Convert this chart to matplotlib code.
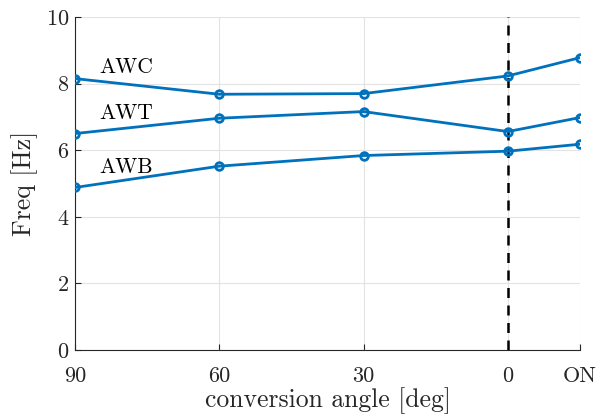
import matplotlib
matplotlib.use("Agg")
import matplotlib.pyplot as plt

x_pos = [-90, -60, -30, 0, 15]
x_labels = ["90", "60", "30", "0", "ON"]
awc = [8.15, 7.68, 7.70, 8.23, 8.78]
awt = [6.50, 6.96, 7.16, 6.56, 6.98]
awb = [4.88, 5.52, 5.84, 5.97, 6.18]
series_names = ["AWC", "AWT", "AWB"]
label_y = [8.5, 7.12, 5.5]

plt.rcParams['font.family'] = ['cmr10', 'DejaVu Serif']
plt.rcParams['axes.formatter.use_mathtext'] = True
plt.rcParams['mathtext.fontset'] = 'cm'

fig = plt.figure(figsize=(6.04, 4.19), dpi=100)
ax = fig.add_axes([75/604, 69/419, 505/604, 333/419])

color = '#0072BD'
for s in [awc, awt, awb]:
    ax.plot(x_pos, s, '-o', color=color, lw=2, ms=5.5, mfc='none', mew=2, zorder=3)

ax.axvline(0, color='black', ls=(0, (4, 3)), lw=1.8, zorder=2)

for name, yv in zip(series_names, label_y):
    ax.text(-85, yv, name, fontsize=15.5, ha='left', va='center')

ax.set_xlim(-90, 15)
ax.set_ylim(0, 10)
ax.set_xticks(x_pos)
ax.set_xticklabels(x_labels)
ax.set_yticks([0, 2, 4, 6, 8, 10])
ax.grid(True, color='#e3e3e3', lw=0.8)
ax.set_axisbelow(True)
for side in ['top', 'right']:
    ax.spines[side].set_visible(False)
for side in ['left', 'bottom']:
    ax.spines[side].set_color('#262626')
    ax.spines[side].set_linewidth(0.8)
ax.tick_params(direction='in', length=4, width=0.8, color='#262626', labelsize=16, labelcolor='#262626')
ax.tick_params(axis='x', pad=12)
ax.tick_params(axis='y', pad=4)
ax.set_xlabel('conversion angle [deg]', fontsize=18.5, color='#262626', labelpad=1)
ax.set_ylabel('Freq [Hz]', fontsize=18.5, color='#262626', labelpad=6)

fig.savefig('out.png', dpi=100)
